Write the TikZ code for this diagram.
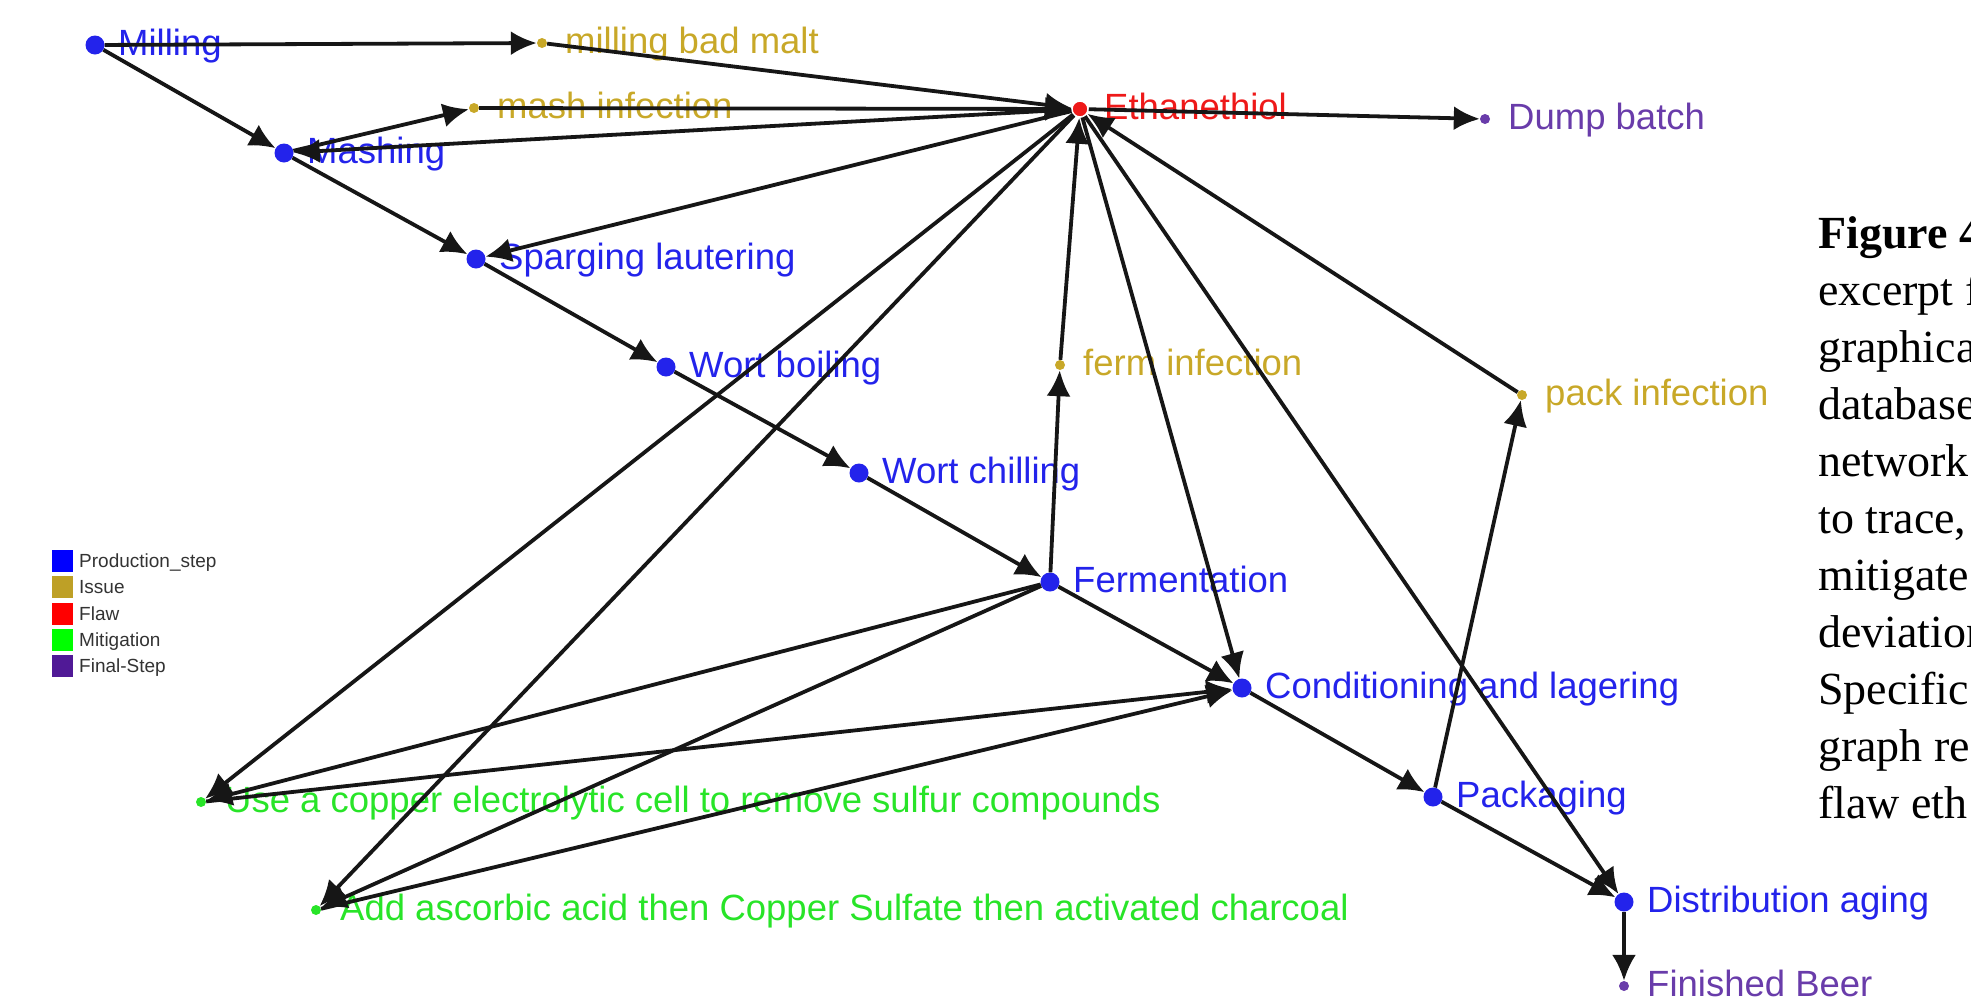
\documentclass[tikz,border=0pt]{standalone}
\usepackage{fontspec}
\setmainfont{Liberation Serif}
\newfontfamily\lblfont{Liberation Sans}
\usetikzlibrary{arrows.meta}

\definecolor{prodblue}{RGB}{35,35,235}
\definecolor{issuegold}{RGB}{200,168,40}
\definecolor{flawred}{RGB}{238,25,25}
\definecolor{mitgreen}{RGB}{40,228,40}
\definecolor{finalpurple}{RGB}{105,60,170}
\definecolor{legpurple}{RGB}{80,25,150}
\definecolor{edgegray}{RGB}{22,22,22}

\tikzset{
  prod/.style={circle, fill=prodblue, inner sep=0pt, minimum size=19pt},
  issue/.style={circle, fill=issuegold, inner sep=0pt, minimum size=10pt},
  flaw/.style={circle, fill=flawred, draw=white, line width=1.5pt, inner sep=0pt, minimum size=16pt},
  mitig/.style={circle, fill=mitgreen, inner sep=0pt, minimum size=10pt},
  final/.style={circle, fill=finalpurple, inner sep=0pt, minimum size=10pt},
  lbl/.style={anchor=base west, inner sep=0pt, font=\lblfont\fontsize{36.5}{40}\selectfont},
  leg/.style={anchor=base west, inner sep=0pt, text=black!80, font=\lblfont\fontsize{19}{21}\selectfont},
  capt/.style={anchor=base west, inner sep=0pt, font=\fontsize{46}{57}\selectfont},
  link/.style={draw=edgegray, line width=3.8pt, -{Latex[length=26pt,width=24pt]}}
}

\begin{document}
\begin{tikzpicture}[x=1pt, y=-1pt]
\useasboundingbox (0,0) rectangle (1971,999);

% production steps
\node[prod] (mill) at (95,45) {};
\node[lbl, text=prodblue] at ([shift={(23,10)}]mill.center) {Milling};
\node[prod] (mash) at (284,153) {};
\node[lbl, text=prodblue] at ([shift={(23,10)}]mash.center) {Mashing};
\node[prod] (sparg) at (476,259) {};
\node[lbl, text=prodblue] at ([shift={(23,10)}]sparg.center) {Sparging lautering};
\node[prod] (boil) at (666,367) {};
\node[lbl, text=prodblue] at ([shift={(23,10)}]boil.center) {Wort boiling};
\node[prod] (chill) at (859,473) {};
\node[lbl, text=prodblue] at ([shift={(23,10)}]chill.center) {Wort chilling};
\node[prod] (ferm) at (1050,582) {};
\node[lbl, text=prodblue] at ([shift={(23,10)}]ferm.center) {Fermentation};
\node[prod] (cond) at (1242,688) {};
\node[lbl, text=prodblue] at ([shift={(23,10)}]cond.center) {Conditioning and lagering};
\node[prod] (pack) at (1433,797) {};
\node[lbl, text=prodblue] at ([shift={(23,10)}]pack.center) {Packaging};
\node[prod] (dist) at (1624,902) {};
\node[lbl, text=prodblue] at ([shift={(23,10)}]dist.center) {Distribution aging};

% issues
\node[issue] (mbm) at (542,43) {};
\node[lbl, text=issuegold] at ([shift={(23,10)}]mbm.center) {milling bad malt};
\node[issue] (mashinf) at (474,108) {};
\node[lbl, text=issuegold] at ([shift={(23,10)}]mashinf.center) {mash infection};
\node[issue] (ferminf) at (1060,365) {};
\node[lbl, text=issuegold] at ([shift={(23,10)}]ferminf.center) {ferm infection};
\node[issue] (packinf) at (1522,395) {};
\node[lbl, text=issuegold] at ([shift={(23,10)}]packinf.center) {pack infection};

% flaw
\node[flaw] (eth) at (1080,109) {};
\node[lbl, text=flawred] at ([shift={(24,10)}]eth.center) {Ethanethiol};

% mitigations
\node[mitig] (copper) at (201,802) {};
\node[lbl, text=mitgreen] at ([shift={(24,10)}]copper.center) {Use a copper electrolytic cell to remove sulfur compounds};
\node[mitig] (ascorb) at (316,910) {};
\node[lbl, text=mitgreen] at ([shift={(24,10)}]ascorb.center) {Add ascorbic acid then Copper Sulfate then activated charcoal};

% final steps
\node[final] (dump) at (1485,119) {};
\node[lbl, text=finalpurple] at ([shift={(23,10)}]dump.center) {Dump batch};
\node[final] (beer) at (1624,986) {};
\node[lbl, text=finalpurple] at ([shift={(23,10)}]beer.center) {Finished Beer};

% connectors
\draw[link] (mill) -- (mbm);
\draw[link] (mill) -- (mash);
\draw[link] (mbm) -- (eth);
\draw[link] (mash) -- (mashinf);
\draw[link] (mashinf) -- (eth);
\draw[link] (eth) -- (mash);
\draw[link] (mash) -- (sparg);
\draw[link] (eth) -- (sparg);
\draw[link] (sparg) -- (boil);
\draw[link] (boil) -- (chill);
\draw[link] (chill) -- (ferm);
\draw[link] (ferm) -- (ferminf);
\draw[link] (ferminf) -- (eth);
\draw[link] (eth) -- (cond);
\draw[link] (eth) -- (dist);
\draw[link] (packinf) -- (eth);
\draw[link] (pack) -- (packinf);
\draw[link] (eth) -- (dump);
\draw[link] (eth) -- (copper);
\draw[link] (eth) -- (ascorb);
\draw[link] (ferm) -- (copper);
\draw[link] (ferm) -- (ascorb);
\draw[link] (copper) -- (cond);
\draw[link] (ascorb) -- (cond);
\draw[link] (ferm) -- (cond);
\draw[link] (cond) -- (pack);
\draw[link] (pack) -- (dist);
\draw[link] (dist) -- (beer);

% legend
\fill[blue] (52,550) rectangle (73,572);
\node[leg] (legprod) at (79,567) {Production\_step};
\fill[issuegold!95!black] (52,576) rectangle (73,598);
\node[leg] (legissue) at (79,593) {Issue};
\fill[red] (52,603) rectangle (73,625);
\node[leg] (legflaw) at (79,620) {Flaw};
\fill[green] (52,629) rectangle (73,651);
\node[leg] (legmit) at (79,646) {Mitigation};
\fill[legpurple] (52,655) rectangle (73,677);
\node[leg] (legfinal) at (79,672) {Final-Step};

% caption, cut at the right edge
\begin{scope}
\clip (0,0) rectangle (1971,999);
\node[capt, font=\fontsize{46}{57}\selectfont\bfseries] at (1818,248) {Figure 4};
\node[capt] at (1818,305) {excerpt f};
\node[capt] at (1818,362) {graphical};
\node[capt] at (1818,419) {database};
\node[capt] at (1818,476) {network};
\node[capt] at (1818,533) {to trace,};
\node[capt] at (1818,590) {mitigate};
\node[capt] at (1818,647) {deviation};
\node[capt] at (1818,704) {Specific};
\node[capt] at (1818,761) {graph re};
\node[capt] at (1818,818) {flaw eth};
\end{scope}
\end{tikzpicture}
\end{document}
